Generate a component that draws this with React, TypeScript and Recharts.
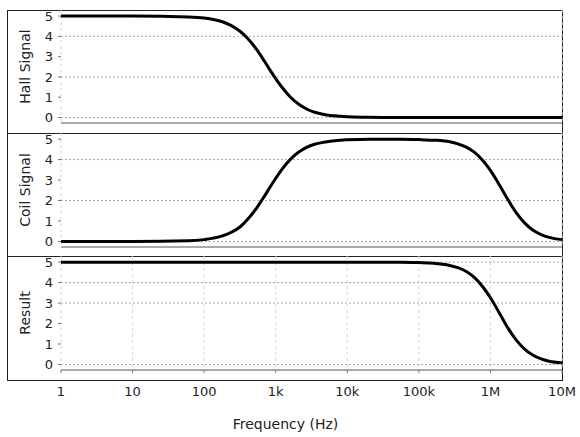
import React from 'react';
import { LineChart, Line, XAxis, YAxis, CartesianGrid } from 'recharts';

// Shared frequency axis (Hz), log scale
const xTicks = [1, 10, 100, 1e3, 1e4, 1e5, 1e6, 1e7];
const xTickLabels = ['1', '10', '100', '1k', '10k', '100k', '1M', '10M'];
const yTicks = [0, 1, 2, 3, 4, 5];

// Hall sensor response (falls off around 1 kHz)
const hallFreq = [
  1, 10, 60, 100, 180, 240, 320, 400, 540, 700, 930, 1200, 1600, 2100, 2700, 3500, 4700, 8000, 2e4, 1e5, 1e7,
];
const hallSignal = [
  5, 5, 4.96, 4.91, 4.72, 4.53, 4.24, 3.92, 3.36, 2.76, 2.08, 1.53, 1.01, 0.65, 0.42, 0.26, 0.15, 0.06, 0.01, 0, 0,
];

// Coil (inductive) response: rises around 1 kHz, falls around 2 MHz
const coilFreq = [
  1, 10, 60, 100, 180, 240, 320, 400, 540, 700, 930, 1200, 1600, 2100, 2700, 3500, 4700, 8000, 2e4,
  5.5e4, 1e5, 1.6e5, 2.7e5, 3.5e5, 4.6e5, 6e5, 8e5, 1e6, 1.35e6, 1.75e6, 2.3e6, 3e6, 3.9e6, 5.1e6, 6.6e6, 1e7,
];
const coilSignal = [
  0, 0, 0.03, 0.09, 0.27, 0.45, 0.72, 1.06, 1.63, 2.23, 2.92, 3.49, 4.01, 4.37, 4.6, 4.75, 4.85, 4.95, 4.99,
  5, 4.98, 4.95, 4.87, 4.77, 4.61, 4.35, 3.92, 3.47, 2.73, 2.05, 1.4, 0.91, 0.56, 0.34, 0.2, 0.09,
];

// Combined result
const resultFreq = [
  1, 10, 100, 1000, 1e4, 5.5e4, 1e5, 1.6e5, 2.7e5, 3.5e5, 4.6e5, 6e5, 8e5, 1e6, 1.35e6, 1.75e6, 2.3e6, 3e6,
  3.9e6, 5.1e6, 6.6e6, 1e7,
];
const resultSignal = [
  5, 5, 5, 5, 5, 5, 4.98, 4.95, 4.84, 4.73, 4.54, 4.24, 3.75, 3.26, 2.48, 1.79, 1.19, 0.75, 0.46, 0.27, 0.16, 0.08,
];

// Dotted horizontal guide levels per panel
const hallGrid = [0, 2, 4];
const coilGrid = [0, 2, 4];
const resultGrid = [0, 3, 4, 5];

const zip = (f: number[], v: number[]) => f.map((x, i) => ({ f: x, v: v[i] }));

const FONT = "'DejaVu Sans', Verdana, sans-serif";
const TEXT = '#222';

type PanelProps = {
  data: { f: number; v: number }[];
  yLabel: string;
  grid: number[];
  top: number;
  plotHeight: number;
  axisHeight: number;
  showX: boolean;
};

function Panel({ data, yLabel, grid, top, plotHeight, axisHeight, showX }: PanelProps) {
  return (
    <div style={{ position: 'absolute', left: 7, top }}>
      <LineChart
        width={573}
        height={plotHeight + axisHeight}
        data={data}
        margin={{ top: 0, right: 18, bottom: 0, left: 0 }}
      >
        <CartesianGrid horizontal={false} stroke="#d6d6d6" strokeDasharray="3 3" />
        <CartesianGrid vertical={false} horizontalValues={grid} stroke="#a8a8a8" strokeDasharray="2 2" />
        <XAxis
          dataKey="f"
          type="number"
          scale="log"
          domain={[1, 1e7]}
          ticks={xTicks}
          interval={0}
          height={axisHeight}
          tickSize={3}
          tickMargin={14}
          axisLine={{ stroke: '#555' }}
          tickLine={{ stroke: '#777' }}
          tick={showX ? { fill: TEXT, fontSize: 13, fontFamily: FONT } : false}
          tickFormatter={(v: number) => xTickLabels[xTicks.indexOf(v)] ?? ''}
          label={
            showX
              ? {
                  value: 'Frequency (Hz)',
                  position: 'insideBottom',
                  offset: 8,
                  dx: -26,
                  fill: TEXT,
                  fontSize: 14,
                  fontFamily: FONT,
                }
              : undefined
          }
        />
        <YAxis
          type="number"
          domain={[-0.27, 5.3]}
          allowDataOverflow
          ticks={yTicks}
          interval={0}
          width={54}
          tickSize={3}
          tickMargin={5}
          axisLine={false}
          tickLine={{ stroke: '#777' }}
          tick={{ fill: TEXT, fontSize: 13, fontFamily: FONT }}
          label={{
            value: yLabel,
            angle: -90,
            position: 'insideLeft',
            offset: 18,
            fill: TEXT,
            fontSize: 14,
            fontFamily: FONT,
            style: { textAnchor: 'middle' },
          }}
        />
        <Line
          type="monotone"
          dataKey="v"
          stroke="#000"
          strokeWidth={3}
          dot={false}
          activeDot={false}
          isAnimationActive={false}
        />
      </LineChart>
    </div>
  );
}

export default function App() {
  return (
    <div style={{ position: 'absolute', left: 0, top: 0, width: 580, height: 437, background: '#fff', fontFamily: FONT }}>
      {/* outer frame and panel separators */}
      <div
        style={{
          position: 'absolute',
          left: 7,
          top: 10,
          width: 556,
          height: 371,
          border: '1px solid #222',
          boxSizing: 'border-box',
        }}
      />
      <div style={{ position: 'absolute', left: 7, top: 133, width: 556, height: 1, background: '#222' }} />
      <div style={{ position: 'absolute', left: 7, top: 256, width: 556, height: 1, background: '#222' }} />
      <Panel data={zip(hallFreq, hallSignal)} yLabel="Hall Signal" grid={hallGrid} top={10} plotHeight={113} axisHeight={10} showX={false} />
      <Panel data={zip(coilFreq, coilSignal)} yLabel="Coil Signal" grid={coilGrid} top={133} plotHeight={114} axisHeight={9} showX={false} />
      <Panel data={zip(resultFreq, resultSignal)} yLabel="Result" grid={resultGrid} top={256} plotHeight={114} axisHeight={67} showX={true} />
    </div>
  );
}
